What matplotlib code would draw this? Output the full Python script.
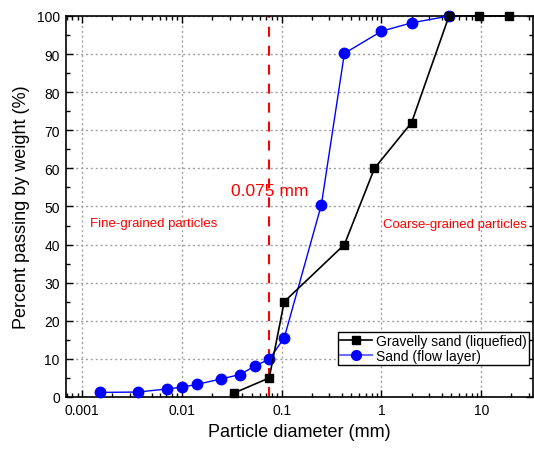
import numpy as np
import matplotlib
matplotlib.use('Agg')
import matplotlib.pyplot as plt
from matplotlib.lines import Line2D
from matplotlib.ticker import LogLocator, FixedLocator, NullFormatter, FuncFormatter

plt.rcParams['font.family'] = ['Liberation Sans', 'DejaVu Sans']

# 数据
gravel_d = [0.033, 0.075, 0.106, 0.425, 0.85, 2.0, 4.75, 9.5, 19.0]
gravel_p = [1.0, 5.0, 25.0, 40.0, 60.0, 72.0, 100.0, 100.0, 100.0]

sand_d = [0.0015, 0.0036, 0.0071, 0.0101, 0.0141, 0.0244, 0.0384, 0.0535,
          0.075, 0.106, 0.25, 0.425, 1.0, 2.0, 4.75]
sand_p = [1.2, 1.3, 2.1, 2.6, 3.3, 4.7, 5.9, 8.1, 9.9, 15.5, 50.5, 90.2,
          96.0, 98.2, 100.0]

boundary = 0.075

fig = plt.figure(figsize=(5.34, 4.52), dpi=100)
ax = fig.add_axes([0.1236, 0.1195, 0.8746, 0.8429])

ax.plot(gravel_d, gravel_p, '-s', color='black', lw=1.2, ms=6,
        zorder=4, clip_on=False)
ax.plot(sand_d, sand_p, '-o', color='blue', lw=1.0, ms=7.5,
        zorder=3, clip_on=False)

ax.axvline(boundary, color='red', ls=(0, (4.8, 4.3)), lw=1.5, zorder=2)

ax.set_xscale('log')
ax.set_xlim(0.00069, 33)
ax.set_ylim(0, 100)

ax.xaxis.set_major_locator(LogLocator(base=10, numticks=10))
ax.xaxis.set_minor_locator(LogLocator(base=10, subs=np.arange(2, 10), numticks=20))
ax.xaxis.set_minor_formatter(NullFormatter())
ax.xaxis.set_major_formatter(FuncFormatter(lambda v, p: '%g' % v))
ax.set_yticks(np.arange(0, 101, 10))
ax.yaxis.set_minor_locator(FixedLocator(np.arange(5, 100, 10)))

ax.tick_params(which='both', direction='in', top=True, right=True, labelsize=10)
ax.tick_params(which='major', length=5, width=1, pad=4.5)
ax.tick_params(which='minor', length=3, width=1)
for s in ax.spines.values():
    s.set_linewidth(1.2)

ax.grid(True, which='major', color='#a0a0a0', ls=(0, (1.5, 2)), lw=1.0)

ax.set_xlabel('Particle diameter (mm)', fontsize=13)
ax.set_ylabel('Percent passing by weight (%)', fontsize=13, labelpad=5)

ax.text(0.075, 54.3, '0.075 mm', color='red', fontsize=12.5, ha='center', va='center')
ax.text(0.00121, 45.7, 'Fine-grained particles', color='red', fontsize=9.5,
        ha='left', va='center')
ax.text(1.04, 45.4, 'Coarse-grained particles', color='red', fontsize=9.5,
        ha='left', va='center')

# 图例（线-标记-线）
handles = [Line2D([], [], color='black', lw=1.2, marker='s', ms=5.5),
           Line2D([], [], color='#7070ff', lw=1.5, marker='o', ms=7, mfc='blue', mec='blue')]
labels = ['Gravelly sand (liquefied)', 'Sand (flow layer)']
leg = ax.legend(handles, labels, loc='lower right', bbox_to_anchor=(0.991, 0.084),
                fontsize=10, frameon=True, fancybox=False, edgecolor='black',
                borderpad=0.15, borderaxespad=0, handlelength=2.3,
                handletextpad=0.3, labelspacing=0.05, framealpha=1)
leg.get_frame().set_linewidth(1.0)

fig.savefig('out.png', dpi=100)
